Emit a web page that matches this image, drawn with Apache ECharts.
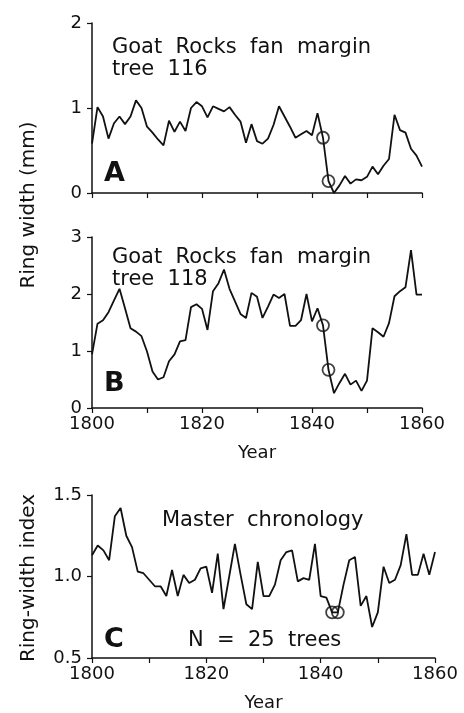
<!DOCTYPE html>
<html>
<head>
<meta charset="utf-8">
<title>Goat Rocks ring widths</title>
<script src="https://cdn.jsdelivr.net/npm/echarts@6/dist/echarts.min.js"></script>
<style>
  html, body { margin: 0; padding: 0; background: #fff; }
  #chart { width: 464px; height: 713px; }
</style>
</head>
<body>
<div id="chart"></div>
<script>
// first year of every record, one value per year after that
const firstYear = 1800

// A: Goat Rocks fan margin, tree 116 - ring width (mm)
const tree116 = [
  0.58, 1.01, 0.90, 0.64, 0.82, 0.90, 0.81, 0.90, 1.09, 1.00,
  0.78, 0.71, 0.63, 0.56, 0.85, 0.72, 0.84, 0.73, 1.00, 1.07,
  1.02, 0.89, 1.02, 0.99, 0.96, 1.01, 0.92, 0.84, 0.59, 0.81,
  0.61, 0.58, 0.64, 0.80, 1.02, 0.90, 0.78, 0.65, 0.69, 0.73,
  0.68, 0.94, 0.65, 0.14, 0.00, 0.09, 0.20, 0.11, 0.16, 0.15,
  0.19, 0.31, 0.22, 0.32, 0.40, 0.92, 0.74, 0.71, 0.52, 0.44,
  0.31
]

// B: Goat Rocks fan margin, tree 118 - ring width (mm)
const tree118 = [
  0.94, 1.48, 1.54, 1.68, 1.89, 2.09, 1.75, 1.40, 1.34, 1.26,
  0.99, 0.64, 0.50, 0.54, 0.82, 0.94, 1.17, 1.19, 1.77, 1.82,
  1.74, 1.37, 2.05, 2.19, 2.43, 2.09, 1.87, 1.65, 1.58, 2.02,
  1.95, 1.58, 1.78, 1.99, 1.93, 2.00, 1.44, 1.44, 1.54, 2.00,
  1.52, 1.75, 1.45, 0.67, 0.26, 0.44, 0.60, 0.41, 0.48, 0.30,
  0.48, 1.40, 1.33, 1.25, 1.49, 1.96, 2.05, 2.12, 2.77, 1.99,
  1.99
]

// C: master chronology, ring-width index
const masterIndex = [
  1.13, 1.19, 1.16, 1.10, 1.37, 1.42, 1.25, 1.18, 1.03, 1.02,
  0.98, 0.94, 0.94, 0.88, 1.04, 0.88, 1.01, 0.96, 0.98, 1.05,
  1.06, 0.90, 1.14, 0.80, 1.00, 1.20, 1.01, 0.83, 0.80, 1.09,
  0.88, 0.88, 0.95, 1.10, 1.15, 1.16, 0.97, 0.99, 0.98, 1.20,
  0.88, 0.87, 0.78, 0.78, 0.95, 1.10, 1.12, 0.82, 0.88, 0.69,
  0.78, 1.06, 0.96, 0.98, 1.07, 1.26, 1.01, 1.01, 1.14, 1.01,
  1.15
]

// years circled on every panel
const markedYears = [1842, 1843]

// year labels shown under panels B and C
const yearLabels = [1800, 1820, 1840, 1860]

const font = 'DejaVu Sans'
const ink = '#111'

function toPairs(values) {
  let out = []
  for (let i = 0; i < values.length; i++) {
    out.push([firstYear + i, values[i]])
  }
  return out
}

function marked(values) {
  return markedYears.map(y => [y, values[y - firstYear]])
}

function xAxisFor(gridIndex, showLabels) {
  return {
    type: 'value',
    gridIndex: gridIndex,
    min: 1800,
    max: 1860,
    interval: 10,
    name: showLabels ? 'Year' : '',
    nameLocation: 'middle',
    nameGap: 36,
    nameTextStyle: { color: ink, fontFamily: font, fontSize: 18 },
    axisLine: { lineStyle: { color: ink, width: 1.5 } },
    axisTick: { show: true, length: 5, lineStyle: { color: ink, width: 1.2 } },
    axisLabel: {
      show: showLabels,
      color: ink,
      fontFamily: font,
      fontSize: 18,
      margin: 7,
      formatter: v => yearLabels.indexOf(v) >= 0 ? String(v) : ''
    },
    splitLine: { show: false }
  }
}

function yAxisFor(gridIndex, min, max, interval, digits) {
  return {
    type: 'value',
    gridIndex: gridIndex,
    min: min,
    max: max,
    interval: interval,
    axisLine: { show: true, lineStyle: { color: ink, width: 1.5 } },
    axisTick: { show: true, length: 5, lineStyle: { color: ink, width: 1.2 } },
    axisLabel: {
      color: ink,
      fontFamily: font,
      fontSize: 18,
      margin: 10,
      formatter: v => v.toFixed(digits)
    },
    splitLine: { show: false }
  }
}

function lineSeries(idx, values) {
  return {
    type: 'line',
    xAxisIndex: idx,
    yAxisIndex: idx,
    data: toPairs(values),
    showSymbol: false,
    silent: true,
    lineStyle: { color: ink, width: 1.8 },
    z: 2
  }
}

function circleSeries(idx, values) {
  return {
    type: 'scatter',
    xAxisIndex: idx,
    yAxisIndex: idx,
    data: marked(values),
    symbol: 'circle',
    symbolSize: 12,
    silent: true,
    itemStyle: { color: 'rgba(255,255,255,0)', borderColor: ink, borderWidth: 1.8 },
    z: 3
  }
}

function label(text, x, y, size, weight) {
  return {
    type: 'text',
    left: x,
    top: y,
    style: { text: text, fill: ink, font: (weight || 'normal') + ' ' + size + 'px "' + font + '"' }
  }
}

function sideTitle(text, y) {
  return {
    type: 'text',
    x: 29,
    y: y,
    rotation: Math.PI / 2,
    style: {
      text: text, fill: ink, font: '20px "' + font + '"',
      align: 'center', verticalAlign: 'middle'
    }
  }
}

const chart = echarts.init(document.getElementById('chart'), null, { renderer: 'canvas' })

const option = {
  backgroundColor: '#ffffff',
  animation: false,
  grid: [
    { left: 92, right: 42, top: 23, height: 170 },
    { left: 92, right: 42, top: 237, height: 171 },
    { left: 92, right: 29, top: 495, height: 167 }
  ],
  xAxis: [
    xAxisFor(0, false),
    xAxisFor(1, true),
    xAxisFor(2, true)
  ],
  yAxis: [
    yAxisFor(0, 0, 2, 1, 0),
    yAxisFor(1, 0, 3, 1, 0),
    yAxisFor(2, 0.5, 1.5, 0.5, 1)
  ],
  series: [
    lineSeries(0, tree116),
    circleSeries(0, tree116),
    lineSeries(1, tree118),
    circleSeries(1, tree118),
    lineSeries(2, masterIndex),
    circleSeries(2, masterIndex)
  ],
  graphic: [
    label('Goat  Rocks  fan  margin', 112, 37, 21),
    label('tree  116', 112, 59, 21),
    label('A', 104, 160, 27, 'bold'),
    label('Goat  Rocks  fan  margin', 112, 247, 21),
    label('tree  118', 112, 269, 21),
    label('B', 104, 370, 27, 'bold'),
    label('Master  chronology', 162, 510, 21),
    label('N  =  25  trees', 188, 630, 21),
    label('C', 104, 626, 27, 'bold'),
    sideTitle('Ring width (mm)', 205),
    sideTitle('Ring-width index', 578)
  ]
}

chart.setOption(option)
</script>
</body>
</html>
